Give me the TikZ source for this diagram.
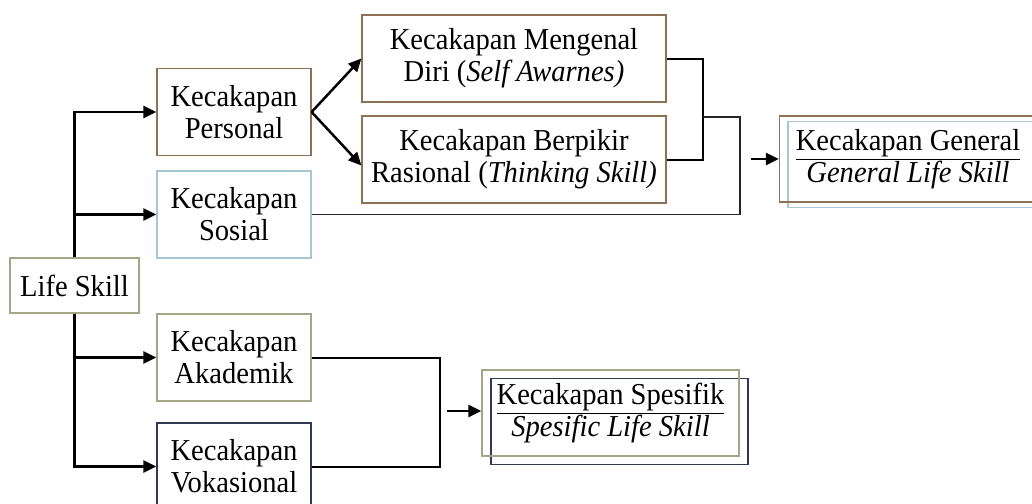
\documentclass[tikz,border=0pt]{standalone}
\usepackage{fontspec}
\setmainfont[FakeStretch=0.94]{Liberation Serif}
\usepackage{tikz}
\usetikzlibrary{arrows.meta,positioning,calc}
\definecolor{lsbrown}{HTML}{8C7356}
\definecolor{lsblue}{HTML}{A8C6D2}
\definecolor{lsolive}{HTML}{A5A587}
\definecolor{lsnavy}{HTML}{2E3B52}
\tikzset{
  box/.style={draw=lsbrown,line width=0.6pt,align=center,inner sep=2pt,font=\fontsize{15.2}{16}\selectfont,minimum width=77pt,minimum height=43.5pt},
  brownbox/.style={box},
  bluebox/.style={box,draw=lsblue},
  olivebox/.style={box,draw=lsolive},
  navybox/.style={box,draw=lsnavy},
  widebox/.style={box,minimum width=152pt},
  resbox/.style={box,minimum width=128.5pt,minimum height=43pt},
  ar/.style={-{Triangle[length=6.5pt,width=6pt]},line width=1.25pt,draw=black},
  brk/.style={line width=1pt,draw=black},
  thin/.style={line width=0.7pt,draw=black!85},
}
\begin{document}
\begin{tikzpicture}[x=0.5pt,y=-0.5pt]
    \useasboundingbox (0,0) rectangle (1032,503);
    \node[olivebox,minimum width=64.5pt,minimum height=27.5pt] (life) at (74.5,285.5) {Life Skill};
    \node[brownbox] (personal) at (234,112) {Kecakapan\\Personal};
    \node[bluebox] (sosial) at (234,214.5) {Kecakapan\\Sosial};
    \node[olivebox] (akademik) at (234,357.5) {Kecakapan\\Akademik};
    \node[navybox] (vokasional) at (234,466.5) {Kecakapan\\Vokasional};
    \node[widebox] (mengenal) at (514,58.5) {Kecakapan Mengenal\\Diri (\textit{Self Awarnes)}};
    \node[widebox] (berpikir) at (514,159.5) {Kecakapan Berpikir\\Rasional (\textit{Thinking Skill)}};
    % hasil: dua kotak bertumpuk
    \node[resbox,draw=lsblue] (generalbg) at (916.5,164.5) {};
    \node[resbox] (general) at (908,159) {\underline{Kecakapan General}\\\textit{General Life Skill}};
    \node[resbox,draw=lsnavy] (spesifikbg) at (619.5,421.5) {};
    \node[resbox,draw=lsolive] (spesifik) at (610.5,413) {\underline{Kecakapan Spesifik}\\\textit{Spesific Life Skill}};
    \coordinate (gj) at (703,117);
    \coordinate (gk) at (740,117);
    \coordinate (ga) at (751,159);
    \coordinate (sj) at (440,411);
    \coordinate (sa) at (447,411);
    \draw[ar] (life.north) |- (personal.west);
    \draw[ar] (life.north) |- (sosial.west);
    \draw[ar] (life.south) |- (akademik.west);
    \draw[ar] (life.south) |- (vokasional.west);
    \draw[ar] (personal.east) -- (mengenal.west);
    \draw[ar] (personal.east) -- ($(berpikir.west)+(0,6)$);
    \draw[brk] (mengenal.east) -| (gj) |- (berpikir.east);
    \draw[thin] (gj) -- (gk) |- (sosial.east);
    \draw[ar] (ga) -- (general.west);
    \draw[brk] (akademik.east) -| (sj) |- (vokasional.east);
    \draw[ar] (sa) -- (sa -| spesifik.west);
  \end{tikzpicture}
\end{document}
